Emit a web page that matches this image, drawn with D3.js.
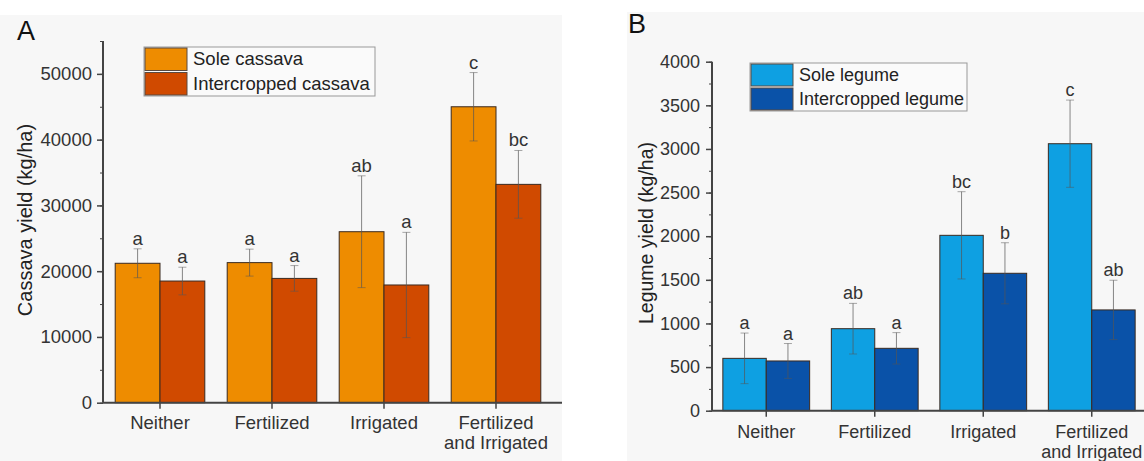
<!DOCTYPE html>
<html>
<head>
<meta charset="utf-8">
<script src="https://cdn.jsdelivr.net/npm/d3@7"></script>
<style>
  body { margin: 0; background: #fff; }
  svg { display: block; font-family: "Liberation Sans", Arial, sans-serif; }
</style>
</head>
<body>
<svg id="chart" width="1144" height="461"></svg>
<script>
// <-- Data -->
const categories = ["Neither", "Fertilized", "Irrigated", "Fertilized\nand Irrigated"];

const cassavaSole  = [21200, 21300, 26000, 45000];
const cassavaSoleErr = [2200, 2050, 8500, 5200];
const cassavaInter = [18500, 18900, 17900, 33200];
const cassavaInterErr = [2100, 1950, 8000, 5150];
const cassavaSoleLetters  = ["a", "a", "ab", "c"];
const cassavaInterLetters = ["a", "a", "a", "bc"];
const cassavaTicks = [0, 10000, 20000, 30000, 40000, 50000];

const legumeSole  = [600, 940, 2010, 3060];
const legumeSoleErr = [290, 290, 500, 500];
const legumeInter = [570, 715, 1575, 1155];
const legumeInterErr = [200, 180, 350, 340];
const legumeSoleLetters  = ["a", "ab", "bc", "c"];
const legumeInterLetters = ["a", "a", "b", "ab"];
const legumeTicks = [0, 500, 1000, 1500, 2000, 2500, 3000, 3500, 4000];

;(function(){
  const svg = d3.select("#chart");

  function panel(opt){
    const g = svg.append("g");
    g.append("rect")
      .attr("x", opt.bg[0]).attr("y", opt.bg[1])
      .attr("width", opt.bg[2]).attr("height", opt.bg[3])
      .attr("fill", "#f7f7f7");

    const y = d3.scaleLinear().domain(opt.domain).range([opt.y0, opt.y1]);
    const x = d3.scaleBand().domain(categories).range(opt.xr).paddingInner(0.2).paddingOuter(0.1);
    const sub = d3.scaleBand().domain([0, 1]).range([0, x.bandwidth()]);
    const fs = opt.fs;

    // minor ticks
    const minor = d3.axisLeft(y).tickValues(d3.range(0, opt.domain[1] + 1, opt.minor)).tickSize(3).tickFormat("");
    g.append("g").attr("transform", `translate(${opt.xr0},0)`).call(minor)
      .call(s => s.select(".domain").remove())
      .selectAll("line").attr("stroke", "#444");

    const yAxis = d3.axisLeft(y).tickValues(opt.ticks).tickSize(6).tickPadding(opt.pad).tickFormat(d3.format("d"));
    const ya = g.append("g").attr("transform", `translate(${opt.xr0},0)`).call(yAxis);
    ya.attr("font-family", null);
    ya.select(".domain").attr("stroke", "#444").attr("stroke-width", 2).attr("d", `M0,${y(opt.domain[1])}V${opt.y0}`);
    ya.selectAll(".tick line").attr("stroke", "#444").attr("stroke-width", 1.5);
    ya.selectAll("text").attr("font-size", fs).attr("fill", "#333");

    const series = [
      {vals: opt.sole, err: opt.soleErr, letters: opt.soleLetters, color: opt.colors[0]},
      {vals: opt.inter, err: opt.interErr, letters: opt.interLetters, color: opt.colors[1]}
    ];

    series.forEach((s, si) => {
      const gs = g.append("g");
      gs.selectAll("rect").data(categories).enter().append("rect")
        .attr("x", c => x(c) + sub(si))
        .attr("width", sub.bandwidth())
        .attr("y", (c, i) => y(s.vals[i]))
        .attr("height", (c, i) => y(0) - y(s.vals[i]))
        .attr("fill", s.color)
        .attr("stroke", "#3a2a20")
        .attr("stroke-width", 1);
      const cx = c => x(c) + sub(si) + sub.bandwidth() / 2;
      gs.selectAll("line.err").data(categories).enter().append("line")
        .attr("x1", cx).attr("x2", cx)
        .attr("y1", (c, i) => y(s.vals[i] + s.err[i]))
        .attr("y2", (c, i) => y(s.vals[i] - s.err[i]))
        .attr("stroke", "#555").attr("stroke-opacity", 0.7).attr("stroke-width", 1);
      [1, -1].forEach(sign => {
        gs.selectAll(null).data(categories).enter().append("line")
          .attr("x1", c => cx(c) - 4).attr("x2", c => cx(c) + 4)
          .attr("y1", (c, i) => y(s.vals[i] + sign * s.err[i]))
          .attr("y2", (c, i) => y(s.vals[i] + sign * s.err[i]))
          .attr("stroke", "#555").attr("stroke-opacity", 0.5).attr("stroke-width", 1);
      });
      gs.selectAll("text").data(categories).enter().append("text")
        .attr("x", cx)
        .attr("y", (c, i) => y(s.vals[i] + s.err[i]) - 4)
        .attr("text-anchor", "middle")
        .attr("font-size", fs).attr("fill", "#333")
        .text((c, i) => s.letters[i]);
    });

    // x axis
    g.append("line").attr("x1", opt.xr0).attr("x2", opt.xEnd)
      .attr("y1", y(0)).attr("y2", y(0)).attr("stroke", "#444").attr("stroke-width", 2);
    categories.forEach(c => {
      const cx = x(c) + x.bandwidth() / 2;
      g.append("line").attr("x1", cx).attr("x2", cx).attr("y1", y(0)).attr("y2", y(0) + 6)
        .attr("stroke", "#444").attr("stroke-width", 1.5);
      const t = g.append("text").attr("x", cx).attr("y", y(0) + opt.xlabOff)
        .attr("text-anchor", "middle").attr("font-size", fs).attr("fill", "#333");
      c.split("\n").forEach((line, li) => {
        t.append("tspan").attr("x", cx).attr("dy", li ? 20 : 0).text(line);
      });
    });

    // y label
    g.append("text")
      .attr("transform", `translate(${opt.ylabX},${opt.ylabY}) rotate(-90)`)
      .attr("text-anchor", "middle").attr("font-size", opt.ylabFs).attr("fill", "#222")
      .text(opt.ylabel);

    // panel letter
    g.append("text").attr("x", opt.letter[1]).attr("y", opt.letter[2])
      .attr("font-size", 27).attr("fill", "#111").text(opt.letter[0]);

    // legend
    const lg = g.append("g").attr("transform", `translate(${opt.legend[0]},${opt.legend[1]})`);
    lg.append("rect").attr("width", opt.legend[2]).attr("height", opt.legend[3] * 2)
      .attr("fill", "#fafafa").attr("stroke", "#999").attr("stroke-width", 1);
    opt.names.forEach((n, i) => {
      lg.append("rect").attr("x", 1).attr("y", 1 + i * opt.legend[3])
        .attr("width", 42).attr("height", opt.legend[3] - 2)
        .attr("fill", opt.colors[i]).attr("stroke", "#5a4a40").attr("stroke-width", 1);
      lg.append("text").attr("x", 49).attr("y", i * opt.legend[3] + opt.legend[3] / 2 + 6)
        .attr("font-size", fs).attr("fill", "#222").text(n);
    });
  }

  panel({
    bg: [0, 15, 562, 446],
    domain: [0, 55000], y0: 402.7, y1: 41, minor: 5000, ticks: cassavaTicks,
    xr: [104, 552], xr0: 103, xEnd: 562, fs: 18.5, pad: 5, xlabOff: 26,
    sole: cassavaSole, soleErr: cassavaSoleErr, soleLetters: cassavaSoleLetters,
    inter: cassavaInter, interErr: cassavaInterErr, interLetters: cassavaInterLetters,
    colors: ["#ee8c00", "#d04a00"],
    names: ["Sole cassava", "Intercropped cassava"],
    ylabel: "Cassava yield (kg/ha)", ylabX: 32, ylabY: 220, ylabFs: 20,
    letter: ["A", 17, 40],
    legend: [144, 47, 231, 24.5]
  });

  panel({
    bg: [627, 12, 517, 449],
    domain: [0, 4000], y0: 410.7, y1: 61.7, minor: 250, ticks: legumeTicks,
    xr: [712, 1146], xr0: 712, xEnd: 1144, fs: 18, pad: 6, xlabOff: 27,
    sole: legumeSole, soleErr: legumeSoleErr, soleLetters: legumeSoleLetters,
    inter: legumeInter, interErr: legumeInterErr, interLetters: legumeInterLetters,
    colors: ["#0ea0e2", "#0a52a8"],
    names: ["Sole legume", "Intercropped legume"],
    ylabel: "Legume yield (kg/ha)", ylabX: 653, ylabY: 233, ylabFs: 19.5,
    letter: ["B", 628, 33],
    legend: [750, 63, 217, 24]
  });
})();
</script>
</body>
</html>
